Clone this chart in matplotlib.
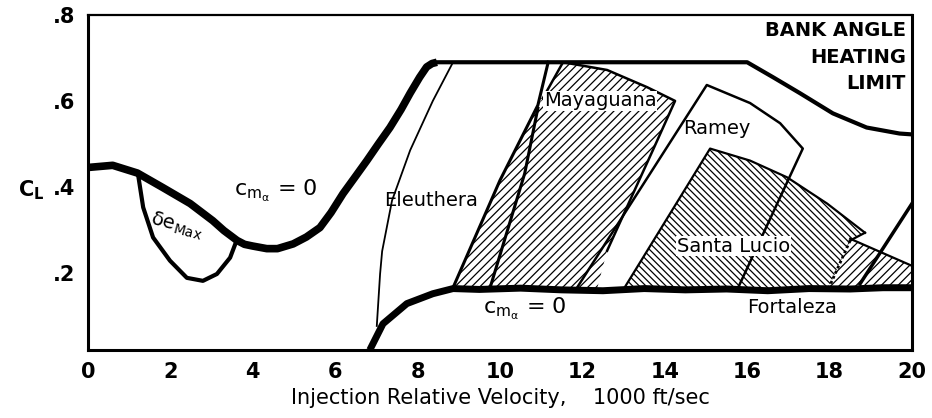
import numpy as np
import matplotlib
matplotlib.use("Agg")
import matplotlib.pyplot as plt

plt.rcParams['font.family'] = ['DejaVu Sans']
plt.rcParams['mathtext.default'] = 'regular'
plt.rcParams['hatch.linewidth'] = 0.9

# upper c_m_alpha = 0 boundary (thick curve on the left)
cma_upper_x = [0.0, 0.6, 1.2, 1.82, 2.48, 3.03, 3.3, 3.62, 3.8, 4.0, 4.34, 4.6, 4.98, 5.3,
               5.63, 5.9, 6.19, 6.5, 6.77, 7.05, 7.33, 7.6, 7.82, 8.05, 8.22, 8.35, 8.47]
cma_upper_y = [0.445, 0.450, 0.432, 0.398, 0.361, 0.321, 0.298, 0.275, 0.266, 0.262, 0.256, 0.256, 0.267, 0.283,
               0.305, 0.340, 0.384, 0.425, 0.461, 0.500, 0.538, 0.580, 0.618, 0.655, 0.679, 0.687, 0.690]

# delta e max loop
de_x = [1.21, 1.34, 1.58, 1.99, 2.40, 2.79, 3.13, 3.45, 3.58]
de_y = [0.432, 0.352, 0.282, 0.228, 0.188, 0.181, 0.197, 0.235, 0.268]

# lower c_m_alpha = 0 boundary
cma_lower_x = [6.84, 7.16, 7.74, 8.37, 8.86, 9.5, 10.5, 11.5, 12.5, 13.5, 14.5, 15.5, 16.5, 17.5, 18.5, 19.3, 20.0]
cma_lower_y = [0.02, 0.081, 0.128, 0.151, 0.163, 0.161, 0.164, 0.160, 0.158, 0.163, 0.160, 0.162, 0.158, 0.163, 0.162, 0.165, 0.165]

# bank angle heating limit
bank_x = [8.47, 16.0, 16.63, 17.28, 18.08, 18.9, 19.7, 20.0]
bank_y = [0.690, 0.690, 0.655, 0.618, 0.571, 0.538, 0.524, 0.522]

# Eleuthera boundary (thin line)
eleu_x = [8.86, 8.37, 7.82, 7.38, 7.14, 7.09, 7.01]
eleu_y = [0.690, 0.600, 0.485, 0.368, 0.250, 0.197, 0.076]

# hatched Eleuthera / Mayaguana area
maya_x = [8.86, 10.0, 10.92, 11.04, 11.53, 12.6, 13.57, 14.25, 13.71, 13.23, 12.6, 12.35]
maya_y = [0.160, 0.415, 0.590, 0.606, 0.690, 0.672, 0.632, 0.600, 0.485, 0.384, 0.251, 0.160]
line_a_x = [8.86, 10.0, 10.92, 11.17]
line_a_y = [0.165, 0.415, 0.590, 0.690]
line_b_x = [9.76, 10.6, 10.92]
line_b_y = [0.165, 0.431, 0.583]

# Ramey outline
ramey_x = [11.87, 15.02, 16.07, 16.8, 17.35, 15.78]
ramey_y = [0.165, 0.637, 0.595, 0.548, 0.489, 0.165]

# Santa Lucio hatched area
sl_x = [12.99, 15.1, 16.07, 16.97, 17.94, 18.86, 18.5, 17.96]
sl_y = [0.160, 0.489, 0.461, 0.422, 0.361, 0.293, 0.275, 0.160]

# Fortaleza hatched area and line
fort_x = [17.96, 18.5, 20.0, 20.0]
fort_y = [0.160, 0.279, 0.216, 0.160]
fort_line_x = [18.74, 20.0]
fort_line_y = [0.174, 0.361]

x_ticks = [0, 2, 4, 6, 8, 10, 12, 14, 16, 18, 20]
y_ticks = [0.2, 0.4, 0.6, 0.8]
y_tick_labels = ['.2', '.4', '.6', '.8']

fig = plt.figure(figsize=(9.32, 4.18), dpi=100)
ax = fig.add_axes([0.0944, 0.1627, 0.8841, 0.8014])

# hatched regions
ax.fill(maya_x, maya_y, facecolor='white', edgecolor='black', hatch='////', linewidth=0, zorder=1)
ax.fill(sl_x, sl_y, facecolor='white', edgecolor='black', hatch='\\\\\\\\\\', linewidth=0, zorder=1)
ax.fill(fort_x, fort_y, facecolor='white', edgecolor='black', hatch='////', linewidth=0, zorder=1)

# region outlines
ax.plot(maya_x[3:-1], maya_y[3:-1], color='black', lw=1.8, zorder=3)
ax.plot(line_a_x, line_a_y, color='black', lw=2.2, zorder=3)
ax.plot(line_b_x, line_b_y, color='black', lw=2.2, zorder=3)
ax.plot(ramey_x, ramey_y, color='black', lw=1.8, zorder=3)
ax.plot(sl_x[:6], sl_y[:6], color='black', lw=1.6, zorder=3)
ax.plot(sl_x[5:7], sl_y[5:7], color='black', lw=1.6, zorder=3)
ax.plot(sl_x[6:], sl_y[6:], color='black', lw=2.0, ls=(0, (1, 1)), zorder=3)
ax.plot(fort_x[1:3], fort_y[1:3], color='black', lw=1.6, zorder=3)
ax.plot(fort_line_x, fort_line_y, color='black', lw=2.5, zorder=3)
ax.plot(eleu_x, eleu_y, color='black', lw=1.3, zorder=3)

# boundaries
ax.plot(cma_upper_x, cma_upper_y, color='black', lw=5.5, solid_capstyle='butt',
        solid_joinstyle='round', zorder=4)
ax.plot(de_x, de_y, color='black', lw=3, solid_joinstyle='round', zorder=4)
ax.plot(cma_lower_x, cma_lower_y, color='black', lw=5, solid_capstyle='butt',
        solid_joinstyle='round', zorder=4)
ax.plot(bank_x, bank_y, color='black', lw=3, solid_joinstyle='round', zorder=4)

# labels
white = dict(facecolor='white', edgecolor='none', pad=0.5)
ax.text(7.2, 0.368, 'Eleuthera', fontsize=14, va='center', ha='left', zorder=5)
ax.text(11.07, 0.600, 'Mayaguana', fontsize=14, va='center', ha='left', bbox=white, zorder=5)
ax.text(14.45, 0.536, 'Ramey', fontsize=14, va='center', ha='left', zorder=5)
ax.text(14.3, 0.262, 'Santa Lucio', fontsize=14, va='center', ha='left', bbox=white, zorder=5)
ax.text(16.0, 0.118, 'Fortaleza', fontsize=14, va='center', ha='left', zorder=5)
ax.text(3.55, 0.39, r'$c_{m_{\alpha}}$ = 0', fontsize=16, va='center', ha='left', zorder=5)
ax.text(9.6, 0.115, r'$c_{m_{\alpha}}$ = 0', fontsize=16, va='center', ha='left', zorder=5)
ax.text(1.45, 0.31, r'$\delta e_{Max}$', fontsize=14, va='center', ha='left', rotation=-15, zorder=5)
ax.text(19.85, 0.785, 'BANK ANGLE\nHEATING\nLIMIT', fontsize=14, fontweight='bold',
        va='top', ha='right', linespacing=1.5, zorder=5)

ax.set_xlim(0, 20)
ax.set_ylim(0.02, 0.8)
ax.set_xticks(x_ticks)
ax.set_xticklabels([str(v) for v in x_ticks], fontsize=15, fontweight='bold')
ax.set_yticks(y_ticks)
ax.set_yticklabels(y_tick_labels, fontsize=15, fontweight='bold')
ax.tick_params(length=0, pad=9)
for s in ax.spines.values():
    s.set_linewidth(2.2)
ax.spines['top'].set_linewidth(1.6)

ax.set_xlabel('Injection Relative Velocity,    1000 ft/sec', fontsize=15, labelpad=4)
fig.text(0.034, 0.545, r'$\mathbf{C_L}$', fontsize=15, ha='center', va='center')

fig.savefig('out.png', dpi=100)
